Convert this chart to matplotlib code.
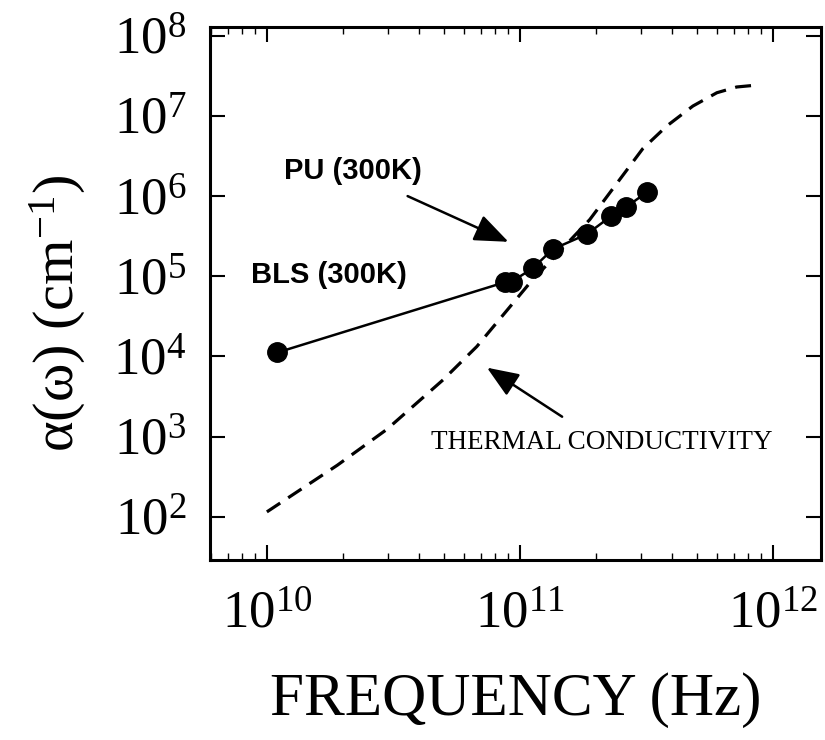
import matplotlib
matplotlib.use("Agg")
import matplotlib.pyplot as plt
import numpy as np

# Measured absorption (BLS + PU at 300K)
freq_meas = [1.1e10, 8.7e10, 9.3e10, 1.125e11, 1.35e11, 1.84e11, 2.29e11, 2.63e11, 3.18e11]
alpha_meas = [1.12e4, 8.4e4, 8.6e4, 1.26e5, 2.18e5, 3.35e5, 5.6e5, 7.3e5, 1.12e6]

# Thermal-conductivity model (dashed)
freq_model = [1.0e10, 1.9e10, 2.98e10, 4.97e10, 6.76e10, 1.1e11, 1.89e11, 3.06e11,
              3.81e11, 4.83e11, 6.01e11, 7.2e11, 8.9e11]
alpha_model = [1.15e2, 4.4e2, 1.23e3, 5.1e3, 1.33e4, 8.4e4, 5.1e5, 3.9e6,
               7.5e6, 1.33e7, 1.95e7, 2.3e7, 2.45e7]

xticks = [1e10, 1e11, 1e12]
xticklabels = [r"$\mathregular{10^{10}}$", r"$\mathregular{10^{11}}$", r"$\mathregular{10^{12}}$"]
yticks = [1e2, 1e3, 1e4, 1e5, 1e6, 1e7, 1e8]
yticklabels = [r"$\mathregular{10^{%d}}$" % k for k in range(2, 9)]

plt.rcParams['font.family'] = ['Liberation Serif', 'DejaVu Serif']
plt.rcParams['mathtext.fontset'] = 'custom'
plt.rcParams['mathtext.rm'] = 'Liberation Serif'

fig = plt.figure(figsize=(8.25, 7.4), dpi=100)
ax = fig.add_axes([0.2545, 0.2432, 0.7405, 0.7203])
ax.set_xscale('log')
ax.set_yscale('log')
ax.set_xlim(10**9.775, 10**12.19)
ax.set_ylim(10**1.46, 10**8.11)

ax.plot(freq_model, alpha_model, linestyle=(0, (5.0, 3.0)), color='black', lw=2.3)
ax.plot(freq_meas, alpha_meas, '-', color='black', lw=1.8, marker='o', ms=14,
        markerfacecolor='black', markeredgecolor='black')

ax.set_xticks(xticks)
ax.set_xticklabels(xticklabels, fontsize=38)
ax.set_yticks(yticks)
ax.set_yticklabels(yticklabels, fontsize=38)
ax.tick_params(which='major', direction='in', length=11, width=1.5, top=True, right=True)
ax.tick_params(axis='x', which='major', pad=22)
ax.tick_params(axis='y', which='major', pad=17)
ax.tick_params(which='minor', direction='in', length=5, width=1.0, top=True, right=True)
ax.yaxis.set_minor_locator(matplotlib.ticker.NullLocator())
for s in ax.spines.values():
    s.set_linewidth(2.2)

ax.set_xlabel("FREQUENCY (Hz)", fontsize=44, labelpad=24)
ax.set_ylabel(r"α(ω) (cm$\mathregular{^{-1}}$)", fontsize=42)
ax.yaxis.set_label_coords(-0.2, 0.463)

arrow = dict(arrowstyle='-|>,head_length=1.0,head_width=0.4', color='black', lw=1.8, shrinkB=0)
ax.annotate("PU (300K)", xy=(10**10.955, 10**5.43), xytext=(10**10.34, 10**6.31),
            fontsize=21, fontweight='bold', family=['Liberation Sans', 'DejaVu Sans'],
            ha='center', va='center', arrowprops=dict(arrow, shrinkA=14))
ax.text(10**10.245, 10**5.02, "BLS (300K)", fontsize=21, fontweight='bold',
        family=['Liberation Sans', 'DejaVu Sans'], ha='center', va='center')
ax.annotate("THERMAL CONDUCTIVITY", xy=(10**10.87, 10**3.86), xytext=(10**11.324, 10**2.925),
            fontsize=19.5, ha='center', va='center', arrowprops=dict(arrow, shrinkA=14))

fig.savefig("out.png", dpi=100)
